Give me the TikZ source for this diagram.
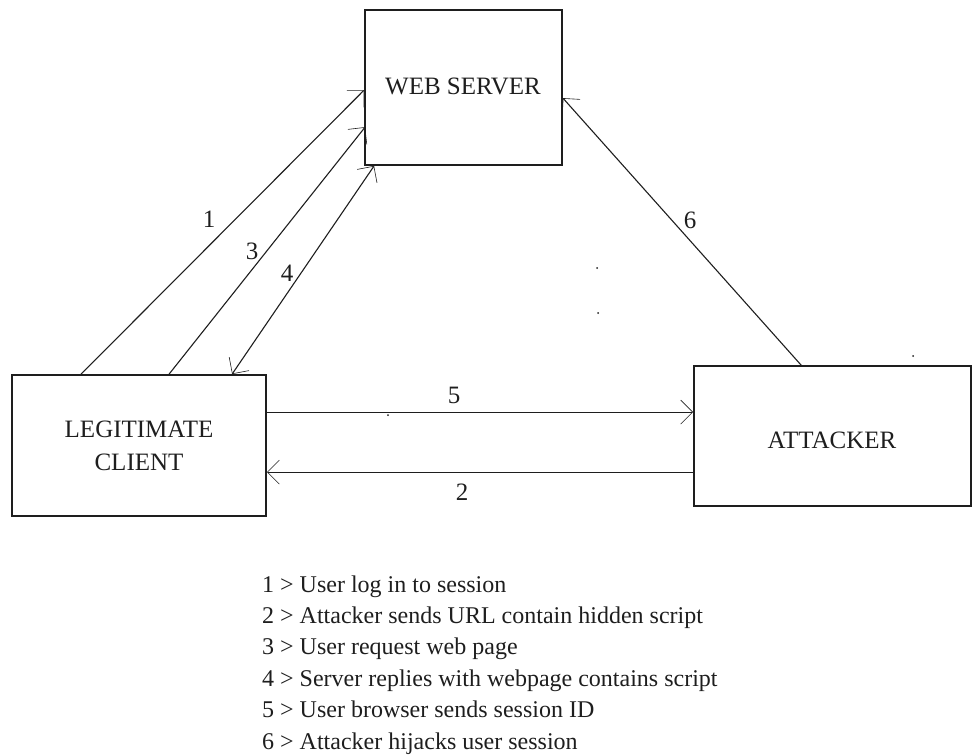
\documentclass[tikz,border=0pt]{standalone}
\usepackage{fontspec}
\setmainfont{Liberation Serif}
\usetikzlibrary{arrows.meta,calc}
\definecolor{ink}{HTML}{1E1E1E}
\begin{document}
\begin{tikzpicture}[x=1pt,y=-1pt,
  box/.style={draw=ink, line width=1.8pt, inner sep=0pt, text=ink,
    font=\fontsize{25}{33}\selectfont, align=center},
  link/.style={draw=ink, line width=1.1pt,
    -{Straight Barb[length=12pt,width=24pt,line width=0.6pt]}},
  biglink/.style={link, {Straight Barb[length=12pt,width=24pt,line width=0.6pt]}-{Straight Barb[length=12pt,width=24pt,line width=0.6pt]}},
  num/.style={text=ink, inner sep=0pt, font=\fontsize{25}{30}\selectfont},
  legend/.style={text=ink, inner sep=0pt, anchor=base west, font=\fontsize{24}{30}\selectfont},
  speck/.style={fill=ink, circle, inner sep=0pt, minimum size=2pt}
]
\useasboundingbox (0,0) rectangle (973,755);

% the three parties
\node[box, minimum width=197pt, minimum height=155pt] (web) at (463.5,87.5) {};
\node[text=ink, font=\fontsize{25}{33}\selectfont] (webtxt) at (463,86) {WEB SERVER};
\node[box, minimum width=254pt, minimum height=141pt] (client) at (139,445.5) {LEGITIMATE\\CLIENT};
\node[box, minimum width=277pt, minimum height=140pt] (attacker) at (832.5,436) {};
\node[text=ink, font=\fontsize{25}{33}\selectfont] (atttxt) at (832,440) {ATTACKER};

% attachment points on the box borders
\coordinate (c1) at ($(client.north west)+(70,0)$);
\coordinate (c3) at ($(client.north west)+(158,0)$);
\coordinate (c4) at ($(client.north west)+(221,0)$);
\coordinate (c5) at ($(client.north east)+(0,38)$);
\coordinate (c2) at ($(client.north east)+(0,98)$);
\coordinate (w1) at ($(web.north west)+(0,81)$);
\coordinate (w3) at ($(web.north west)+(1,118)$);
\coordinate (w4) at ($(web.south west)+(10,0)$);
\coordinate (w6) at ($(web.north east)+(0,89)$);
\coordinate (a5) at ($(attacker.north west)+(0,47)$);
\coordinate (a2) at ($(attacker.north west)+(0,107)$);
\coordinate (a6) at ($(attacker.north west)+(108,0)$);

% message flows
\draw[link] (c1) -- (w1);
\draw[link] (c3) -- (w3);
\draw[biglink] (w4) -- (c4);
\draw[link] (c5) -- (a5);
\draw[link] (a2) -- (c2);
\draw[link] (a6) -- (w6);

% step numbers
\node[num] (n1) at (209,219) {1};
\node[num] (n3) at (252,251) {3};
\node[num] (n4) at (287,273) {4};
\node[num] (n6) at (690,220) {6};
\node[num] (n5) at (454,395) {5};
\node[num] (n2) at (462,492) {2};

% stray specks
\node[speck] (s1) at (597,268) {};
\node[speck] (s2) at (598,313) {};
\node[speck] (s3) at (913,356) {};
\node[speck] (s4) at (388,415) {};

% legend
\node[legend] (k1) at (262,592) {1 > User log in to session};
\node[legend] (k2) at (262,623.4) {2 > Attacker sends URL contain hidden script};
\node[legend] (k3) at (262,654.8) {3 > User request web page};
\node[legend] (k4) at (262,686.2) {4 > Server replies with webpage contains script};
\node[legend] (k5) at (262,717.6) {5 > User browser sends session ID};
\node[legend] (k6) at (262,749) {6 > Attacker hijacks user session};
\end{tikzpicture}
\end{document}
